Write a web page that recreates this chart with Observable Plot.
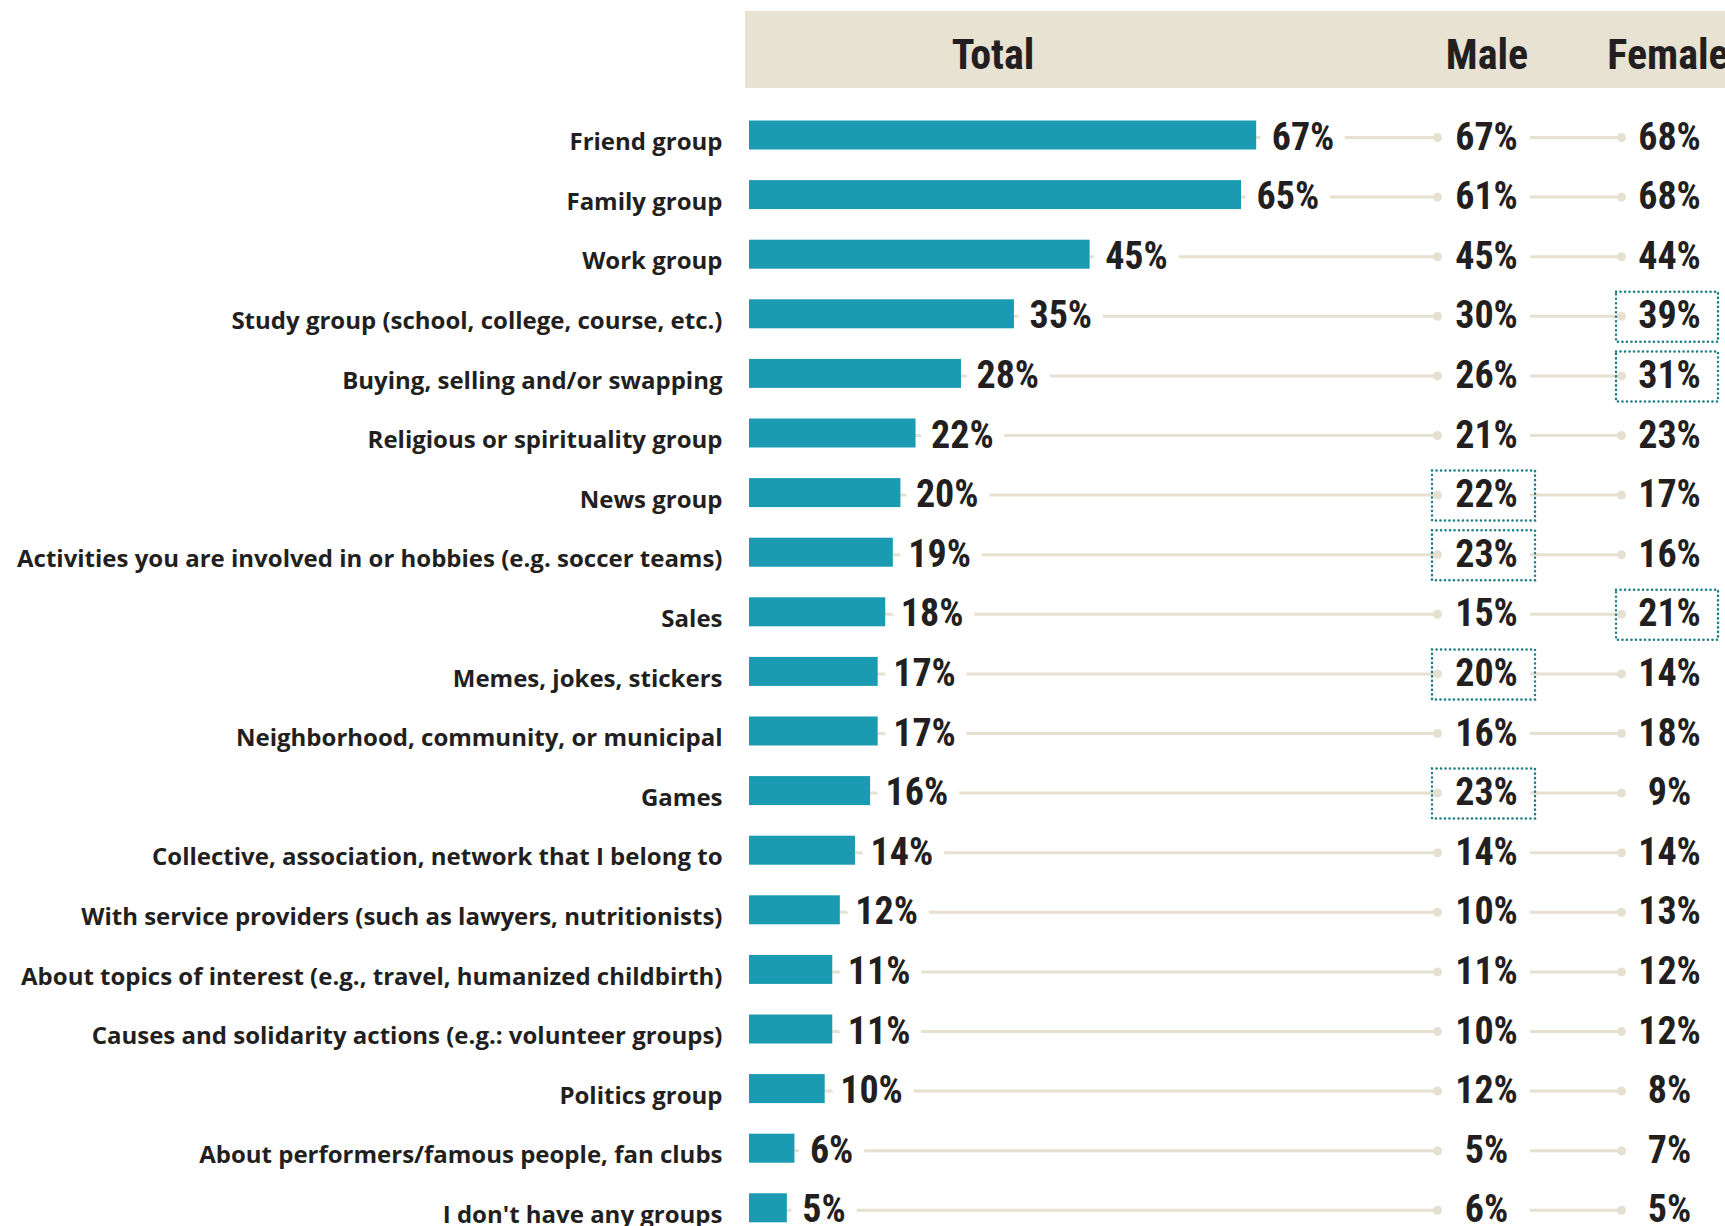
<!DOCTYPE html>
<html>
<head>
<meta charset="utf-8">
<script src="https://cdn.jsdelivr.net/npm/d3@7"></script>
<script src="https://cdn.jsdelivr.net/npm/@observablehq/plot@0.6"></script>
<style>
  html, body { margin: 0; padding: 0; background: #ffffff; overflow: hidden; }
  #page { position: relative; width: 1725px; height: 1226px; overflow: hidden; }
  #header { position: relative; width: 1725px; height: 88px; }
  #band { position: absolute; left: 745px; top: 11px; width: 980px; height: 77px; background: #e8e2d3; }
  .hd { position: absolute; top: 33px; line-height: 44px; font-family: Roboto, sans-serif; font-stretch: condensed;
        font-weight: 700; font-size: 42px; color: #231f20; white-space: nowrap; }
  svg { display: block; }
  .num text { font-stretch: condensed; }
</style>
</head>
<body>
<div id="page">
  <div id="header"><div id="band"></div></div>
  <div id="chart"></div>
</div>
<script>
// ---- Data ----
const categories = [
  "Friend group",
  "Family group",
  "Work group",
  "Study group (school, college, course, etc.)",
  "Buying, selling and/or swapping",
  "Religious or spirituality group",
  "News group",
  "Activities you are involved in or hobbies (e.g. soccer teams)",
  "Sales",
  "Memes, jokes, stickers",
  "Neighborhood, community, or municipal",
  "Games",
  "Collective, association, network that I belong to",
  "With service providers (such as lawyers, nutritionists)",
  "About topics of interest (e.g., travel, humanized childbirth)",
  "Causes and solidarity actions (e.g.: volunteer groups)",
  "Politics group",
  "About performers/famous people, fan clubs",
  "I don't have any groups"
];
const totalValues  = [67, 65, 45, 35, 28, 22, 20, 19, 18, 17, 17, 16, 14, 12, 11, 11, 10, 6, 5];
const maleValues   = [67, 61, 45, 30, 26, 21, 22, 23, 15, 20, 16, 23, 14, 10, 11, 10, 12, 5, 6];
const femaleValues = [68, 68, 44, 39, 31, 23, 17, 16, 21, 14, 18, 9, 14, 13, 12, 12, 8, 7, 5];
const maleHighlighted   = ["News group", "Activities you are involved in or hobbies (e.g. soccer teams)", "Memes, jokes, stickers", "Games"];
const femaleHighlighted = ["Study group (school, college, course, etc.)", "Buying, selling and/or swapping", "Sales"];
const columnTitles = ["Total", "Male", "Female"];

// ---- Layout (pixels) ----
const X0 = 749, PPU = 7.57;           // bar origin and pixels per percentage point
const L = {
  maleDot: 1437, maleText: 1486, maleLineStart: 1530,
  femaleDot: 1621, femaleText: 1669,
  maleBox: [1432, 1535], femaleBox: [1616, 1718],
  headerCenters: [993, 1487, 1668]
};
const at = px => (px - X0) / PPU;     // pixel position -> x scale units

const C = { bar: "#1a9bb2", text: "#231f20", line: "#e6e0d1", box: "#1f7d87" };
const numFont = 'Roboto, "DejaVu Sans Condensed", sans-serif';
const labFont = '"Open Sans", "Noto Sans", sans-serif';

// header
const header = document.getElementById("header");
columnTitles.forEach((t, i) => {
  const s = document.createElement("span");
  s.className = "hd";
  s.textContent = t;
  s.style.left = L.headerCenters[i] + "px";
  s.style.transform = "translateX(-50%)";
  header.appendChild(s);
});

const rows = categories.map((label, i) => ({label, total: totalValues[i], male: maleValues[i], female: femaleValues[i]}));
const maleRows = rows.filter(d => maleHighlighted.includes(d.label));
const femaleRows = rows.filter(d => femaleHighlighted.includes(d.label));

const step = 59.6, r0 = 17.2, pin = 0.5134;
const numStyle = { fontFamily: numFont, fontWeight: 700, fontSize: 38, fill: C.text, className: "num" };

const chart = Plot.plot({
  width: 1725,
  height: 1138,
  marginLeft: 0, marginRight: 0, marginTop: 0, marginBottom: 0,
  style: { background: "white" },
  x: { domain: [0, 100], range: [X0, X0 + 100 * PPU], axis: null },
  y: { type: "band", domain: categories, range: [r0, r0 + categories.length * step], paddingInner: pin, paddingOuter: pin / 2, round: false, axis: null },
  marks: [
    Plot.ruleY(rows, { y: "label", x1: "total", x2: () => at(L.maleDot), stroke: C.line, strokeWidth: 3, dy: 2 }),
    Plot.ruleY(rows, { y: "label", x1: () => at(L.maleLineStart), x2: () => at(L.femaleDot), stroke: C.line, strokeWidth: 3, dy: 2 }),
    Plot.dot(rows, { y: "label", x: () => at(L.maleDot), r: 4.5, fill: C.line, dy: 2 }),
    Plot.dot(rows, { y: "label", x: () => at(L.femaleDot), r: 4.5, fill: C.line, dy: 2 }),
    Plot.barX(rows, { y: "label", x: "total", fill: C.bar }),
    Plot.text(rows, { y: "label", x: "total", text: d => d.total + "%", dx: 15, dy: 2, textAnchor: "start",
      ...numStyle, stroke: "white", strokeWidth: 26, strokeLinejoin: "round" }),
    Plot.text(rows, { y: "label", x: () => at(L.maleText), text: d => d.male + "%", dy: 2, textAnchor: "middle", ...numStyle }),
    Plot.text(rows, { y: "label", x: () => at(L.femaleText), text: d => d.female + "%", dy: 2, textAnchor: "middle", ...numStyle }),
    Plot.text(rows, { y: "label", x: () => 0, text: "label", dx: -27, dy: 7, textAnchor: "end",
      fontFamily: labFont, fontWeight: 700, fontSize: 24, fill: C.text }),
    Plot.barX(maleRows, { y: "label", x1: () => at(L.maleBox[0]), x2: () => at(L.maleBox[1]), insetTop: -10.5, insetBottom: -10.5,
      fill: "none", stroke: C.box, strokeWidth: 2.5, strokeDasharray: "0.1,4.4", strokeLinecap: "round", dy: 3 }),
    Plot.barX(femaleRows, { y: "label", x1: () => at(L.femaleBox[0]), x2: () => at(L.femaleBox[1]), insetTop: -10.5, insetBottom: -10.5,
      fill: "none", stroke: C.box, strokeWidth: 2.5, strokeDasharray: "0.1,4.4", strokeLinecap: "round", dy: 3 })
  ]
});
document.getElementById("chart").appendChild(chart);
</script>
</body>
</html>
